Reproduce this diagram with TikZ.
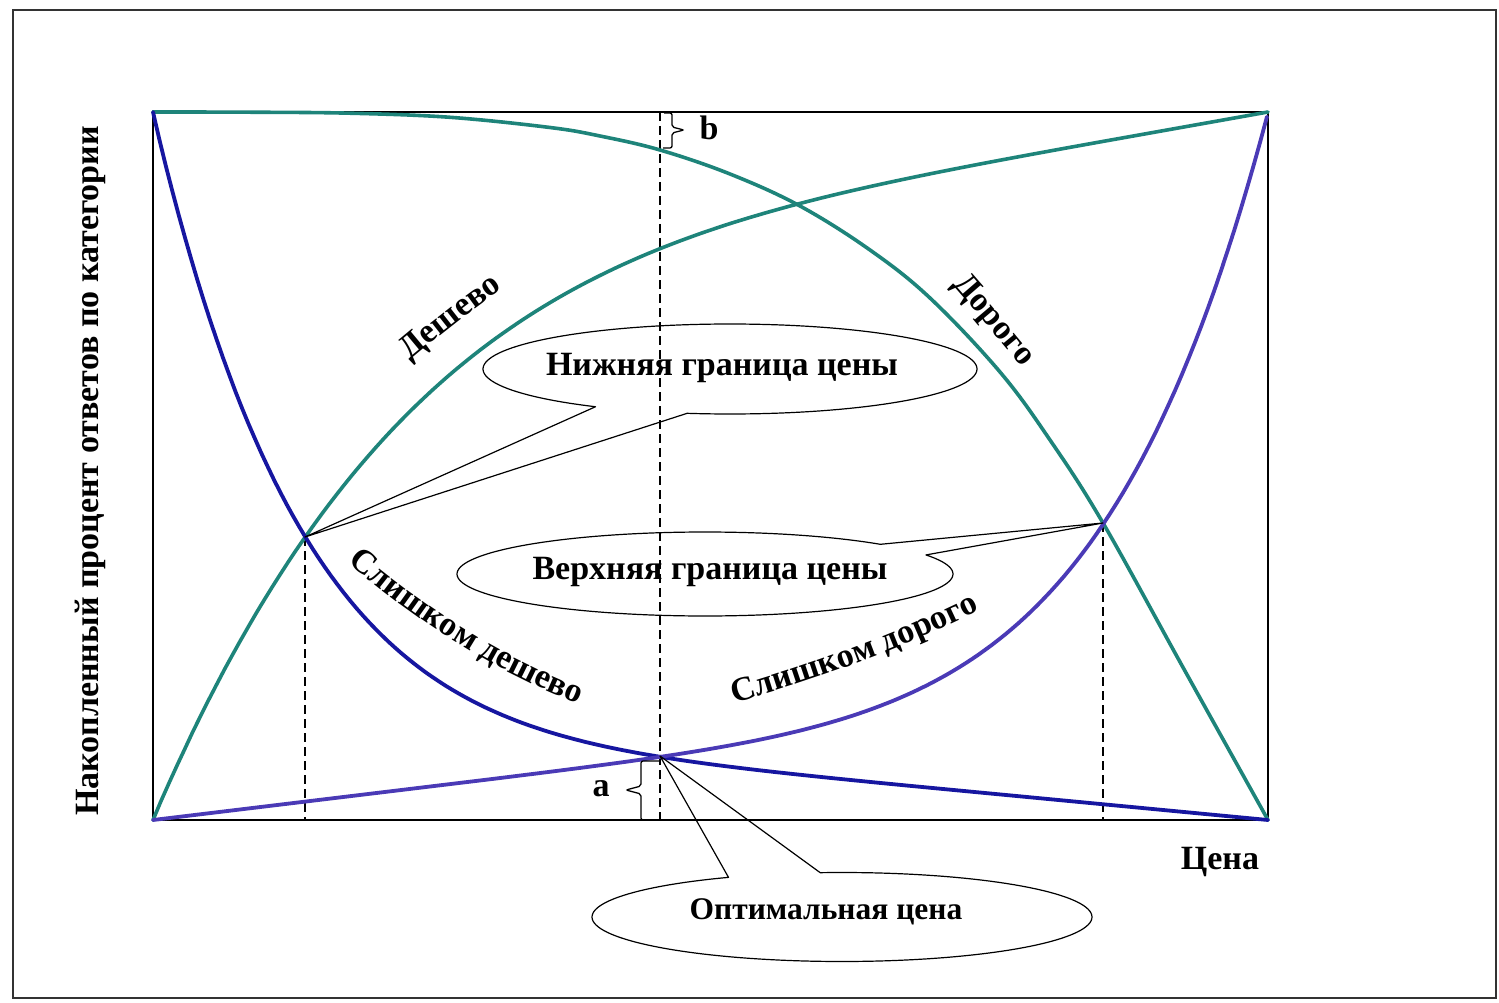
\documentclass[tikz,border=0pt]{standalone}
\usepackage{fontspec}
\setmainfont{Liberation Serif}
\usetikzlibrary{decorations.text}
\definecolor{tealcurve}{RGB}{30,132,122}
\definecolor{navycurve}{RGB}{22,22,160}
\definecolor{violetcurve}{RGB}{74,58,182}
\newcommand{\labfont}{\bfseries\fontsize{34}{40}\selectfont}
\begin{document}
\begin{tikzpicture}[x=1pt,y=-1pt,
  lbl/.style={font=\labfont, inner sep=0pt},
  frameline/.style={line width=1.5pt, black},
  tealline/.style={tealcurve, line width=3.6pt, line join=round, line cap=round},
  navyline/.style={navycurve, line width=3.8pt, line join=round, line cap=round},
  violetline/.style={violetcurve, line width=3.8pt, line join=round, line cap=round},
  guide/.style={black, line width=1.3pt, dash pattern=on 9pt off 5pt},
  callout/.style={black, line width=1.2pt, line join=round},
  bracket/.style={black, line width=1.3pt, rounded corners=2pt},
  curvetext/.style={decorate, decoration={text along path, text align=center,
    text={|\labfont|#1}}}
]
% canvas and outer frame
\useasboundingbox (0,0) rectangle (1499,1003);
\fill[white] (0,0) rectangle (1499,1003);
\draw[line width=2pt, black!80] (13,10) rectangle (1496,998);

% plot area corners and key points
\coordinate (tl) at (153,112);
\coordinate (tr) at (1268,112);
\coordinate (bl) at (153,820);
\coordinate (br) at (1268,820);
\coordinate (lowX) at (305,537);
\coordinate (optX) at (660,756);
\coordinate (highX) at (1103,523);
\coordinate (lowB) at (305,820);
\coordinate (optT) at (660,112);
\coordinate (optB) at (660,820);
\coordinate (highB) at (1103,820);

\draw[frameline] (tl) rectangle (br);

% vertical guides
\draw[guide] (lowX) -- (lowB);
\draw[guide] (optT) -- (optB);
\draw[guide] (highX) -- (highB);

% "cheap" curve: concave rise, straight towards the right end
\draw[tealline] plot[domain=0:0.85, samples=120, variable=\u]
  ({153+1115*\u},{820-708*(0.72*(1-(1-\u)^4.75)+0.28*\u)}) -- (tr);
% "expensive" curve
\draw[tealline] plot[smooth, tension=0.6] coordinates {
  (153,112) (250,112.2) (350,113.2) (450,117.3) (550,127.5) (600,136) (660,150)
  (730,174) (800,206) (870,250) (930,298) (1000,372) (1050,440) (1103,523)
  (1185,671) (1268,820)};
% "too cheap" curve: steep fall, then nearly straight
\draw[navyline] plot[domain=0:0.68, samples=120, variable=\u]
  ({153+1115*\u},{820-708*(0.85*(1-\u)^7.8+0.15*(1-\u))}) -- (br);
% "too expensive" curve: nearly straight, then steep rise
\draw[violetline] (bl) -- plot[domain=0.3:1, samples=120, variable=\u]
  ({153+1115*\u},{820-708*(0.81*\u^7.2+0.19*\u)});

% curve labels
\path[curvetext={Дешево}] (385,382) .. controls (425,347) and (475,306) .. (530,270);
\path[curvetext={Дорого}] (938,268) .. controls (965,298) and (1002,342) .. (1036,384);
\path[curvetext={Слишком дешево}] (330,548) .. controls (400,608) and (480,668) .. (600,712);
\path[curvetext={Слишком дорого}] (712,710) .. controls (800,685) and (900,652) .. (1000,600);

% brackets a and b
\draw[bracket] (664,113) -- (672,113) -- (672,127) -- (684,130) -- (672,133) -- (672,148) -- (663,148);
\node[lbl] (blab) at (709,128) {b};
\draw[bracket] (660,761) -- (641,761) -- (641,786) -- (626,790) -- (641,794) -- (641,820) -- (655,820);
\node[lbl] (alab) at (601,789) {a};

% callouts
\draw[callout] plot[domain=123:460, samples=140, variable=\t]
  ({730+247*cos(\t)},{369+45*sin(\t)}) -- (lowX) -- cycle;
\node[lbl] (lowtxt) at (722,368) {Нижняя граница цены};

\draw[callout] plot[domain=333:675, samples=140, variable=\t]
  ({705+248*cos(\t)},{574+42*sin(\t)}) -- (highX) -- cycle;
\node[lbl] (hightxt) at (710,572) {Верхняя граница цены};

\draw[callout] plot[domain=265:603, samples=140, variable=\t]
  ({842+250*cos(\t)},{917+44.5*sin(\t)}) -- (optX) -- cycle;
\node[lbl, font=\bfseries\fontsize{31.5}{38}\selectfont] (opttxt) at (826,912) {Оптимальная цена};

% axis titles
\node[lbl] (xlab) at (1220,862) {Цена};
\node[lbl, rotate=90] (ylab) at (90,471) {Накопленный процент ответов по категории};
\end{tikzpicture}
\end{document}
